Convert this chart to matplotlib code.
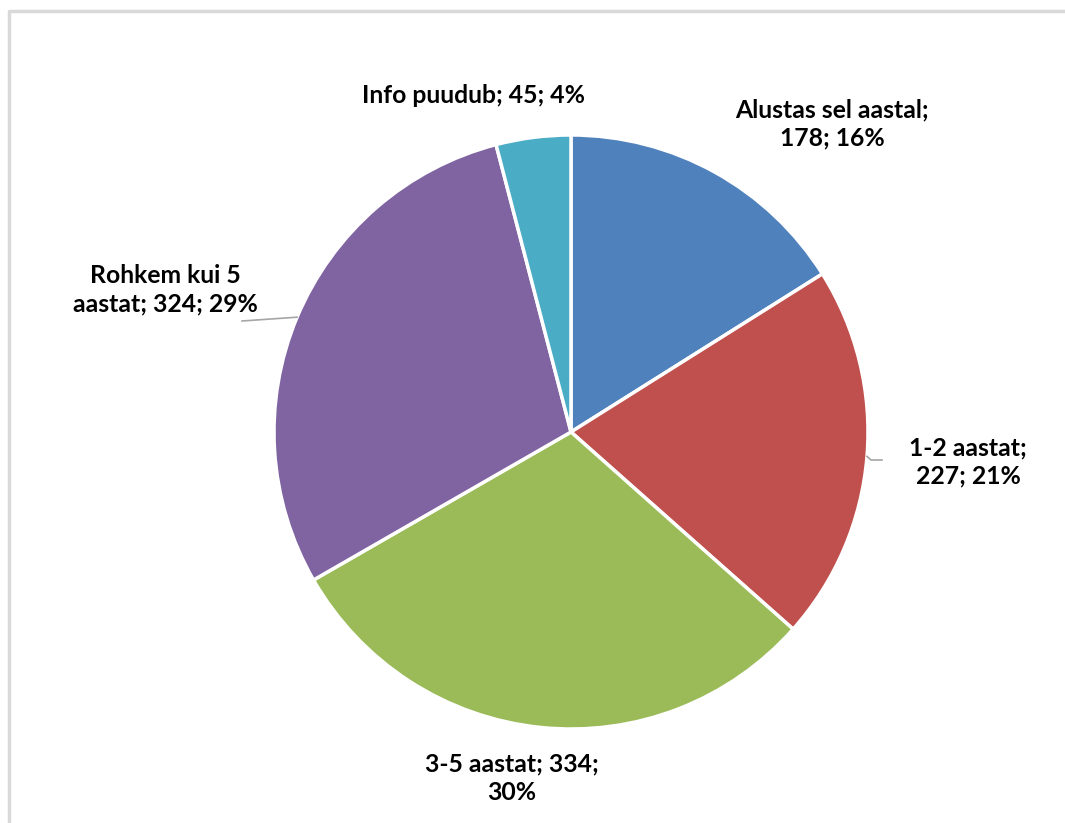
import numpy as np
import matplotlib.pyplot as plt

# andmed
kategooriad = ["Alustas sel aastal", "1-2 aastat", "3-5 aastat", "Rohkem kui 5 aastat", "Info puudub"]
vaartused = [178, 227, 334, 324, 45]
protsendid = [16, 21, 30, 29, 4]  # nagu joonisel
varvid = ["#4F81BD", "#C0504D", "#9BBB59", "#8064A2", "#4BACC6"]

W, H = 1065, 823
fig = plt.figure(figsize=(W / 100, H / 100), dpi=100)
ax = fig.add_axes([0, 0, 1, 1])

# raam
ax.plot([9, 9, W + 5], [-5, H - 11, H - 11], color="#D9D9D9", lw=2.5, solid_capstyle="butt")

cx, cy, r = 571, H - 432, 297
wedges, _ = ax.pie(vaartused, colors=varvid, startangle=90, counterclock=False,
                   center=(cx, cy), radius=r, frame=True,
                   wedgeprops=dict(edgecolor="white", linewidth=2.5))
ax.set_xlim(0, W)
ax.set_ylim(0, H)
ax.set_aspect("equal")
ax.axis("off")

sildid = [
    f"{kategooriad[0]};\n{vaartused[0]}; {protsendid[0]}%",
    f"{kategooriad[1]};\n{vaartused[1]}; {protsendid[1]}%",
    f"{kategooriad[2]}; {vaartused[2]};\n{protsendid[2]}%",
    f"Rohkem kui 5\naastat; {vaartused[3]}; {protsendid[3]}%",
    f"{kategooriad[4]}; {vaartused[4]}; {protsendid[4]}%",
]
sildi_kohad = [(832, 124), (968, 462), (512, 778), (165, 290), (474, 95)]

for s, (x, y) in zip(sildid, sildi_kohad):
    ax.text(x, H - y, s, ha="center", va="center", fontsize=17.8, fontweight="bold",
            family=["Lato", "DejaVu Sans"], linespacing=1.3, color="black")

# juhtjooned
def serv(i):
    w = wedges[i]
    a = np.deg2rad((w.theta1 + w.theta2) / 2)
    return cx + r * np.cos(a), cy + r * np.sin(a)

x0, y0 = serv(1)
ax.plot([x0, x0 + 4, 882], [y0, H - 460, H - 460], color="#A6A6A6", lw=1.2)
x0, y0 = serv(3)
ax.plot([x0, 242], [y0, H - 321], color="#A6A6A6", lw=1.2)

fig.savefig("out.png", dpi=100)
